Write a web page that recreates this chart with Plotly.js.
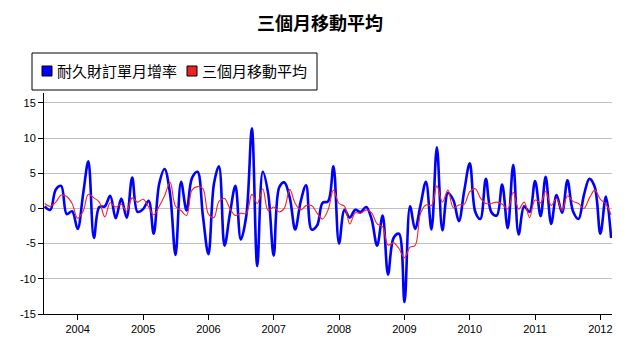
<!DOCTYPE html>
<html>
<head>
<meta charset="utf-8">
<script src="https://cdn.plot.ly/plotly-3.0.1.min.js"></script>
<style>html,body{margin:0;padding:0;background:#fff;}#chart{width:640px;height:357px;}</style>
</head>
<body>
<div id="chart"></div>
<script>
const months = [
'2003-07','2003-08','2003-09','2003-10','2003-11','2003-12',
'2004-01','2004-02','2004-03','2004-04','2004-05','2004-06','2004-07','2004-08','2004-09','2004-10','2004-11','2004-12',
'2005-01','2005-02','2005-03','2005-04','2005-05','2005-06','2005-07','2005-08','2005-09','2005-10','2005-11','2005-12',
'2006-01','2006-02','2006-03','2006-04','2006-05','2006-06','2006-07','2006-08','2006-09','2006-10','2006-11','2006-12',
'2007-01','2007-02','2007-03','2007-04','2007-05','2007-06','2007-07','2007-08','2007-09','2007-10','2007-11','2007-12',
'2008-01','2008-02','2008-03','2008-04','2008-05','2008-06','2008-07','2008-08','2008-09','2008-10','2008-11','2008-12',
'2009-01','2009-02','2009-03','2009-04','2009-05','2009-06','2009-07','2009-08','2009-09','2009-10','2009-11','2009-12',
'2010-01','2010-02','2010-03','2010-04','2010-05','2010-06','2010-07','2010-08','2010-09','2010-10','2010-11','2010-12',
'2011-01','2011-02','2011-03','2011-04','2011-05','2011-06','2011-07','2011-08','2011-09','2011-10','2011-11','2011-12',
'2012-01','2012-02','2012-03'];

// 耐久財訂單月增率 (%)
const orders = [
0.3,-0.2,2.7,3.2,-0.8,-0.4,
-2.9,2.1,6.7,-4.2,0.2,0.3,1.8,-1.4,1.4,-1.3,4.4,-0.5,
-0.1,1.1,-3.6,3.5,5.6,2.0,-6.6,3.8,-0.3,4.3,5.2,-1.0,
-6.5,3.5,6.0,-5.3,-0.8,3.2,-4.4,-1.0,11.4,-8.2,5.2,2.1,
-6.7,3.0,3.7,1.5,-3.0,1.0,3.3,-3.0,-2.4,0.8,1.0,6.0,
-5.0,-0.2,-1.3,-0.2,-0.5,0.2,-1.5,-5.3,-1.0,-9.4,-4.2,-3.6,
-13.3,0.3,-2.9,0.5,3.8,-3.0,8.7,-3.1,2.2,1.2,-1.8,2.5,
6.4,-0.5,-1.5,4.2,-0.5,-1.0,3.4,-2.8,6.2,-3.7,0.3,-0.5,
3.9,-1.1,4.5,-2.2,1.9,-0.6,4.0,-0.4,-1.5,1.9,4.2,3.0,
-3.6,1.7,-4.2];

// 三個月移動平均 (%)
const movAvg = [
0.7,0.3,0.9,1.9,1.7,0.7,
-1.4,-0.4,2.0,1.5,0.9,-1.2,0.8,0.2,0.6,-0.4,1.5,0.9,
1.3,0.2,-0.9,0.3,1.8,3.7,0.3,-0.3,-1.0,2.6,3.1,2.8,
-0.8,-1.3,1.0,1.4,0.0,-1.0,-0.7,-0.7,2.0,0.7,2.8,-0.3,
0.2,-0.5,0.0,2.7,0.7,-0.2,0.4,0.4,-0.7,-1.5,-0.2,2.6,
0.7,0.3,-2.2,-0.6,-0.7,-0.2,-0.6,-2.2,-2.6,-5.2,-4.9,-5.7,
-7.0,-5.5,-5.3,-0.7,0.5,0.4,3.2,0.9,2.6,0.1,0.5,0.6,
2.4,2.8,1.5,0.7,0.7,0.9,0.6,-0.1,2.3,-0.1,0.9,-1.3,
1.2,0.8,2.4,0.4,1.4,-0.3,1.8,1.0,0.7,0.0,1.5,2.6,
1.3,0.6,-0.9];

const yearTicks = ['2004-01-01','2005-01-01','2006-01-01','2007-01-01','2008-01-01','2009-01-01','2010-01-01','2011-01-01','2012-01-01'];
const yearLabels = ['2004','2005','2006','2007','2008','2009','2010','2011','2012'];
const yTicks = [-15,-10,-5,0,5,10,15];
const seriesNames = ['耐久財訂單月增率','三個月移動平均'];
const chartTitle = '三個月移動平均';

// plot area in pixels
const L = 44, R = 612, T = 93, B = 314;
const px = x => (x - L) / (R - L);
const py = y => (B - y) / (B - T);

const traces = [
  {x: months, y: orders, name: seriesNames[0], type: 'scatter', mode: 'lines',
   line: {color: '#0000ff', width: 2.6, shape: 'spline', smoothing: 1}, showlegend: false},
  {x: months, y: movAvg, name: seriesNames[1], type: 'scatter', mode: 'lines',
   line: {color: '#ff2020', width: 1.1, shape: 'spline', smoothing: 1}, showlegend: false}
];

const legendFont = {family: '"Noto Sans CJK TC", "Noto Sans CJK SC", sans-serif', size: 15, color: '#000'};

const layout = {
  width: 640, height: 357,
  margin: {l: L, r: 640 - R, t: T, b: 357 - B, pad: 0},
  paper_bgcolor: '#fff', plot_bgcolor: '#fff',
  font: {family: '"Liberation Sans", Arial, sans-serif', size: 11, color: '#000'},
  title: {text: chartTitle, x: 0.5, xref: 'container', xanchor: 'center',
          y: 1 - 24 / 357, yref: 'container', yanchor: 'middle',
          font: {family: '"Noto Sans CJK TC", "Noto Sans CJK SC", serif', size: 18, weight: 'bold', color: '#000'}},
  showlegend: false,
  xaxis: {type: 'date', range: ['2003-06-27', '2012-03-06'],
          tickvals: yearTicks, ticktext: yearLabels,
          showgrid: false, zeroline: false, showline: true, linecolor: '#000', linewidth: 1,
          ticks: 'outside', ticklen: 5, tickcolor: '#000', tickwidth: 1,
          tickfont: {size: 11, color: '#000'}},
  yaxis: {range: [-15, 16.4], tickvals: yTicks, ticktext: yTicks.map(String),
          showgrid: true, gridcolor: '#c0c0c0', gridwidth: 1, zeroline: false,
          showline: true, linecolor: '#000', linewidth: 1,
          ticks: 'outside', ticklen: 5, tickcolor: '#000', tickwidth: 1,
          tickfont: {size: 11, color: '#000'}},
  shapes: [
    {type: 'rect', xref: 'paper', yref: 'paper', x0: px(32), x1: px(317), y0: py(90), y1: py(53),
     line: {color: '#000', width: 1}, fillcolor: '#fff', layer: 'above'},
    {type: 'rect', xref: 'paper', yref: 'paper', x0: px(42), x1: px(52), y0: py(76), y1: py(66),
     line: {color: '#000', width: 1}, fillcolor: '#0000ff', layer: 'above'},
    {type: 'rect', xref: 'paper', yref: 'paper', x0: px(187), x1: px(197), y0: py(76), y1: py(66),
     line: {color: '#000', width: 1}, fillcolor: '#ee2222', layer: 'above'}
  ],
  annotations: [
    {xref: 'paper', yref: 'paper', x: px(55), y: py(71), xanchor: 'left', yanchor: 'middle',
     text: seriesNames[0], showarrow: false, font: legendFont},
    {xref: 'paper', yref: 'paper', x: px(200), y: py(71), xanchor: 'left', yanchor: 'middle',
     text: seriesNames[1], showarrow: false, font: legendFont}
  ]
};

Plotly.newPlot('chart', traces, layout, {displayModeBar: false, staticPlot: true});
</script>
</body>
</html>
